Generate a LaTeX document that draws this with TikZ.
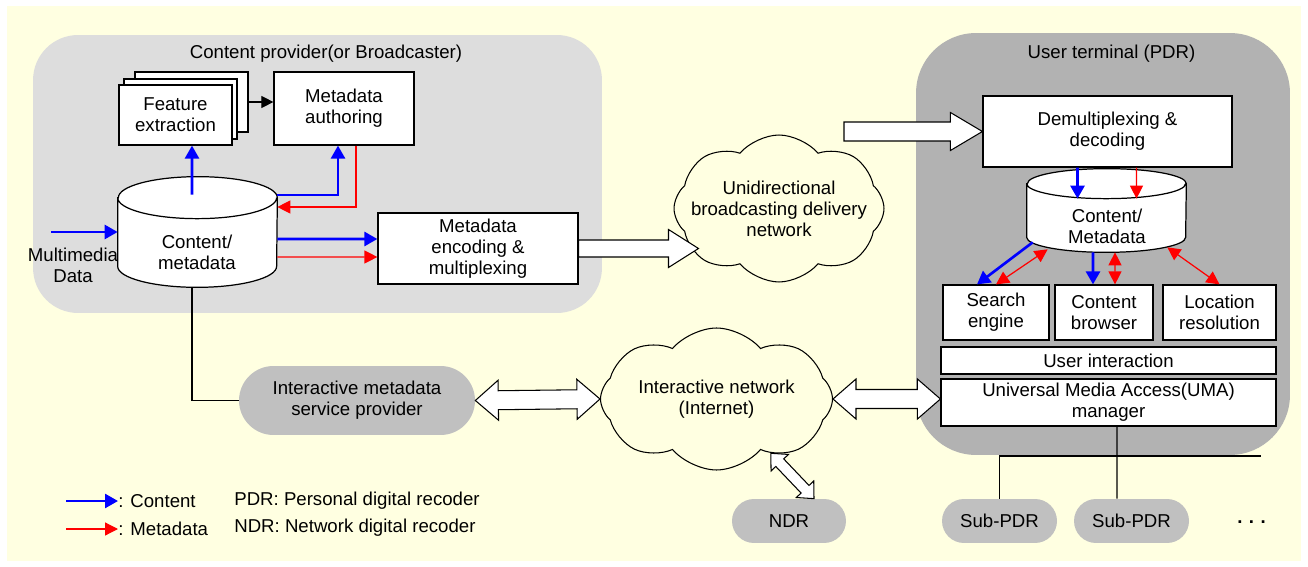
\documentclass[tikz,border=0pt]{standalone}
\usepackage{fontspec}
\setmainfont{Liberation Sans}
\usetikzlibrary{arrows.meta,calc,shapes.symbols}

\definecolor{bgyellow}{RGB}{255,255,225}
\definecolor{provgray}{RGB}{221,221,221}
\definecolor{termgray}{RGB}{178,178,178}
\definecolor{pillgray}{RGB}{192,192,192}

\newcommand{\fatarrow}[5]{%
  \draw[hollow] ($(#1)!#4!90:(#2)$) -- ($(#2)!#3!(#1)!#4!-90:(#1)$)
    -- ($(#2)!#3!(#1)!#5!-90:(#1)$) -- (#2)
    -- ($(#2)!#3!(#1)!#5!90:(#1)$) -- ($(#2)!#3!(#1)!#4!90:(#1)$)
    -- ($(#1)!#4!-90:(#2)$) -- cycle;}
\newcommand{\fatdbl}[5]{%
  \draw[hollow] (#1) -- ($(#1)!#3!(#2)!#5!90:(#2)$) -- ($(#1)!#3!(#2)!#4!90:(#2)$)
    -- ($(#2)!#3!(#1)!#4!-90:(#1)$) -- ($(#2)!#3!(#1)!#5!-90:(#1)$) -- (#2)
    -- ($(#2)!#3!(#1)!#5!90:(#1)$) -- ($(#2)!#3!(#1)!#4!90:(#1)$)
    -- ($(#1)!#3!(#2)!#4!-90:(#2)$) -- ($(#1)!#3!(#2)!#5!-90:(#2)$) -- cycle;}

\begin{document}
\begin{tikzpicture}[x=0.02cm,y=-0.02cm,
  font=\fontsize{10.6}{11.9}\selectfont,
  box/.style={draw,fill=white,line width=0.7pt,align=center,inner sep=0pt},
  fbox/.style={minimum width=2.26cm,minimum height=1.2cm},
  pill/.style={fill=pillgray,align=center,inner sep=0pt},
  txt/.style={align=center,inner sep=0pt},
  cyl/.style={draw,fill=white,line width=0.7pt},
  cloudy/.style={cloud,cloud puffs=8,cloud puff arc=100,cloud ignores aspect,
    shape border rotate=22.5,draw,fill=bgyellow,line width=0.6pt,align=center,inner sep=0pt},
  cont/.style={draw=blue,line width=1.5pt,-{Triangle[length=0.26cm,width=0.28cm]}},
  meta/.style={draw=red,line width=0.7pt,-{Triangle[length=0.26cm,width=0.26cm]}},
  metab/.style={meta,{Triangle[length=0.26cm,width=0.26cm]}-{Triangle[length=0.26cm,width=0.26cm]}},
  hollow/.style={draw,fill=white,line width=0.6pt,line join=miter}]
\useasboundingbox (0,0) rectangle (1308,567);
\fill[bgyellow] (7,6) rectangle (1301,561);

\node[fill=provgray,rounded corners=0.9cm,minimum width=11.38cm,minimum height=5.56cm] (prov) at (317.5,174) {};
\node[txt] (provt) at (326,54) {Content provider(or Broadcaster)};
\path (191.5,102) node [box,fbox] (featc) {}
    +(-11,7) node [box,fbox] (featb) {}
    +(-16,13) node [box,fbox] (feat) {Feature\\extraction};
\node[box,minimum width=2.8cm,minimum height=1.46cm] (auth) at (344,108.5) {Metadata\\authoring};
\node[box,minimum width=4cm,minimum height=1.42cm] (enc) at (478,248.5) {Metadata\\encoding \&\\multiplexing};
\node[minimum width=3.18cm,minimum height=2.2cm,inner sep=0pt] (lcyl) at (197.5,232) {};
\draw[cyl] ([yshift=-0.42cm]lcyl.north west) -- ([yshift=0.42cm]lcyl.south west)
    arc[start angle=180,end angle=360,x radius=1.59cm,y radius=0.42cm]
    -- ([yshift=-0.42cm]lcyl.north east)
    arc[start angle=0,end angle=180,x radius=1.59cm,y radius=0.42cm] -- cycle
    ([yshift=-0.42cm]lcyl.north west) arc[start angle=180,end angle=360,x radius=1.59cm,y radius=0.42cm];
\node[txt] (lcylt) at (197,252) {Content/\\metadata};
\coordinate (mmsrc) at (51,232);
\draw[cont] (mmsrc) -- (lcyl.west);
\node[txt] (mmt) at (73,265) {Multimedia\\Data};
\draw[cont] ([xshift=-0.11cm,yshift=-0.36cm]lcyl.north) -- ([xshift=0.33cm]feat.south);
\draw[line width=0.6pt,-{Triangle[length=0.24cm,width=0.24cm]}] (featc.east) -- (auth.west |- featc.east);
\draw[cont] ([yshift=0.74cm]lcyl.east) -| ([xshift=-0.12cm]auth.south);
\draw[meta] ([xshift=0.24cm]auth.south) |- ([yshift=0.5cm]lcyl.east);
\draw[cont] ([yshift=-0.14cm]lcyl.east) -- ([yshift=0.19cm]enc.west);
\draw[meta] ([yshift=-0.5cm]lcyl.east) -- ([yshift=-0.17cm]enc.west);

\node[cloudy,inner xsep=-0.4cm,minimum width=4.2cm,minimum height=2.94cm] (ucloud) at (779,208.5) {Unidirectional\\broadcasting delivery\\network};
\coordinate (ubtip) at ($(ucloud.west |- enc.east)+(25,0)$);
\fatarrow{enc.east}{ubtip}{0.6cm}{0.17cm}{0.38cm}

\node[fill=termgray,rounded corners=1.2cm,minimum width=7.48cm,minimum height=8.44cm] (term) at (1103,244) {};
\node[txt] (termt) at (1111.5,54) {User terminal (PDR)};
\node[box,minimum width=4.98cm,minimum height=1.42cm] (demux) at (1107.5,131.5) {Demultiplexing \&\\decoding};
\coordinate (dmxin) at (844,131.5);
\fatarrow{dmxin}{demux.west}{0.64cm}{0.19cm}{0.38cm}
\node[minimum width=3.18cm,minimum height=1.66cm,inner sep=0pt] (rcyl) at (1106.5,210.5) {};
\draw[cyl] ([yshift=-0.3cm]rcyl.north west) -- ([yshift=0.3cm]rcyl.south west)
    arc[start angle=180,end angle=360,x radius=1.59cm,y radius=0.3cm]
    -- ([yshift=-0.3cm]rcyl.north east)
    arc[start angle=0,end angle=180,x radius=1.59cm,y radius=0.3cm] -- cycle
    ([yshift=-0.3cm]rcyl.north west) arc[start angle=180,end angle=360,x radius=1.59cm,y radius=0.3cm];
\node[txt] (rcylt) at (1107,226) {Content/\\Metadata};
\node[box,minimum width=2.12cm,minimum height=1.1cm] (search) at (996,312.5) {Search\\engine};
\node[box,minimum width=1.96cm,minimum height=1.1cm] (browse) at (1104,312.5) {Content\\browser};
\node[box,minimum width=2.26cm,minimum height=1.1cm] (locres) at (1219.5,312.5) {Location\\resolution};
\node[box,minimum width=6.7cm,minimum height=0.54cm] (uint) at (1108.5,360.5) {User interaction};
\node[box,minimum width=6.7cm,minimum height=0.94cm] (uma) at (1108.5,402.5) {Universal Media Access(UMA)\\manager};
\draw[cont] ([xshift=-0.6cm]demux.south) -- ([xshift=-0.58cm,yshift=-0.6cm]rcyl.north);
\draw[meta] ([xshift=0.58cm]demux.south) -- ([xshift=0.6cm,yshift=-0.6cm]rcyl.north);
\draw[cont] ([xshift=0.12cm,yshift=0.2cm]rcyl.south west) -- ([xshift=-0.38cm]search.north);
\draw[metab] ([xshift=0.42cm,yshift=0.06cm]rcyl.south west) -- (search.north);
\draw[cont] ([xshift=-0.27cm]rcyl.south) -- ([xshift=-0.22cm]browse.north);
\draw[metab] ([xshift=0.17cm]rcyl.south) -- ([xshift=0.22cm]browse.north);
\draw[metab] ([xshift=-0.38cm,yshift=0.1cm]rcyl.south east) -- (locres.north);

\node[pill,rounded corners=0.69cm,minimum width=4.72cm,minimum height=1.38cm] (isp) at (357,400.5) {Interactive metadata\\service provider};
\draw[line width=0.6pt] ([xshift=-0.11cm]lcyl.south) |- (isp.west);
\node[cloudy,minimum width=4.64cm,minimum height=2.84cm] (icloud) at (716.5,399) {Interactive network\\(Internet)};
\fatdbl{isp.east}{icloud.west}{0.46cm}{0.19cm}{0.4cm}
\coordinate (umain) at (uma.west |- icloud.east);
\fatdbl{icloud.east}{umain}{0.46cm}{0.19cm}{0.4cm}
\node[pill,rounded corners=0.44cm,minimum width=2.28cm,minimum height=0.88cm] (ndr) at (789,521) {NDR};
\coordinate (ndrin) at ($(ndr.north)+(25,0)$);
\fatdbl{icloud.-45}{ndrin}{0.26cm}{0.11cm}{0.24cm}

\node[pill,rounded corners=0.44cm,minimum width=2.3cm,minimum height=0.88cm] (suba) at (999.5,521) {Sub-PDR};
\node[pill,rounded corners=0.44cm,minimum width=2.3cm,minimum height=0.88cm] (subb) at (1131.5,521) {Sub-PDR};
\node[txt,font=\fontsize{10.6}{11.9}\selectfont\bfseries] (more) at (1251.5,522) {.\hspace{0.13cm}.\hspace{0.13cm}.};
\coordinate (busend) at (1261,456);
\draw[line width=0.6pt] (suba.north) |- (busend);
\draw[line width=0.6pt] ([xshift=0.17cm]uma.south) -- ([xshift=-0.29cm]subb.north);

\node[txt,anchor=west] (lgc) at (118,501) {: Content};
\node[txt,anchor=west] (lgm) at (118,529) {: Metadata};
\coordinate (lgcs) at (66,501);
\coordinate (lgms) at (66,529);
\draw[cont] (lgcs) -- (lgc.west);
\draw[meta] (lgms) -- (lgm.west);
\node[txt,anchor=west] (pdrt) at (234,501) {PDR: Personal digital recoder};
\node[txt,anchor=west] (ndrt) at (234,528) {NDR: Network digital recoder};
\end{tikzpicture}
\end{document}
